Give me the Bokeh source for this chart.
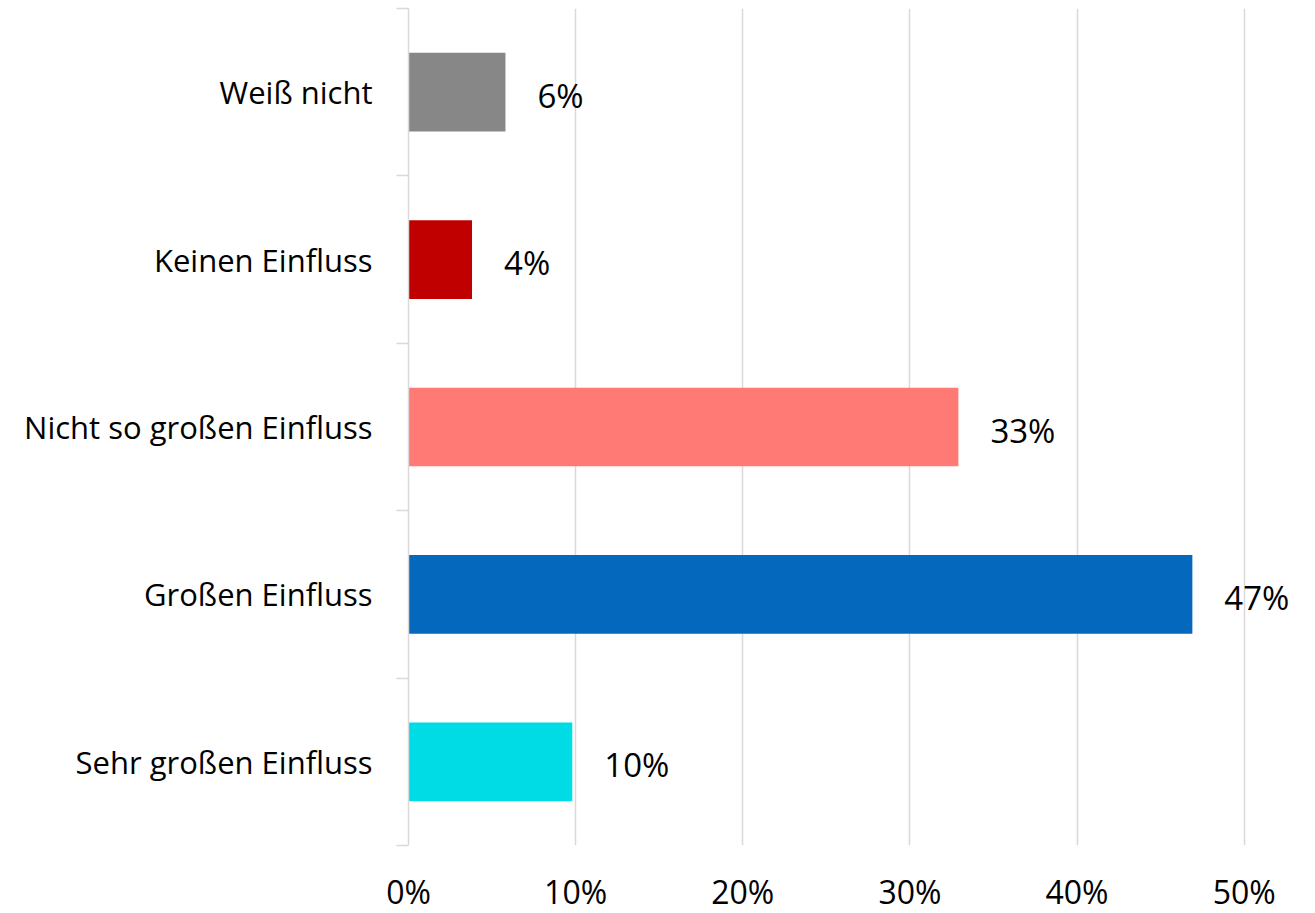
from bokeh.plotting import figure
from bokeh.models import Range1d, FixedTicker, ColumnDataSource
from bokeh.core.properties import value
from bokeh.embed import file_html
from bokeh.resources import INLINE

categories = ["Sehr großen Einfluss", "Großen Einfluss", "Nicht so großen Einfluss",
              "Keinen Einfluss", "Weiß nicht"]
values = [9.8, 46.9, 32.9, 3.8, 5.8]
value_labels = ["10%", "47%", "33%", "4%", "6%"]
colors = ["#00DCE6", "#0469BD", "#FF7A75", "#C00000", "#878787"]
x_ticks = [0, 10, 20, 30, 40, 50]
x_tick_labels = ["0%", "10%", "20%", "30%", "40%", "50%"]

FONT = "Open Sans"
GRID = "#D9D9D9"

pos = [i + 0.5 for i in range(len(categories))]
bounds = list(range(len(categories) + 1))
src = ColumnDataSource(dict(y=pos, v=values, lab=value_labels, c=colors))

p = figure(frame_width=890, frame_height=837,
           x_range=Range1d(0, 53.25), y_range=Range1d(0, len(categories)),
           output_backend="svg", toolbar_location=None,
           min_border_left=408, min_border_right=5, min_border_top=8, min_border_bottom=0)
p.outline_line_color = None
p.background_fill_color = "white"

p.hbar(y="y", right="v", left=0, height=0.47, fill_color="c", line_color=None, source=src)
p.text(x="v", y="y", text="lab", x_offset=32, y_offset=3, text_baseline="middle",
       text_align="left", text_font=value(FONT), text_font_size="33px",
       text_color="#000000", source=src)

# x axis
xa = p.xaxis[0]
xa.ticker = FixedTicker(ticks=x_ticks)
xa.major_label_overrides = {t: l for t, l in zip(x_ticks, x_tick_labels)}
xa.axis_line_color = None
xa.major_tick_line_color = None
xa.minor_tick_line_color = None
xa.major_tick_out = 0
xa.major_tick_in = 0
xa.major_label_standoff = 24
xa.major_label_text_font = FONT
xa.major_label_text_font_size = "32px"
xa.major_label_text_color = "#000000"

# y axis
ya = p.yaxis[0]
ya.ticker = FixedTicker(ticks=pos, minor_ticks=bounds)
ya.major_label_overrides = {t: l for t, l in zip(pos, categories)}
ya.axis_line_color = GRID
ya.axis_line_width = 1.5
ya.major_tick_line_color = None
ya.major_tick_out = 0
ya.major_tick_in = 0
ya.minor_tick_line_color = GRID
ya.minor_tick_line_width = 1.5
ya.minor_tick_out = 12
ya.minor_tick_in = 0
ya.major_label_standoff = 24
ya.major_label_text_font = FONT
ya.major_label_text_font_size = "31px"
ya.major_label_text_color = "#000000"

p.xgrid.ticker = FixedTicker(ticks=x_ticks)
p.xgrid.grid_line_color = GRID
p.xgrid.grid_line_width = 1.5
p.ygrid.grid_line_color = None

open("out.html", "w").write(file_html(p, INLINE))
